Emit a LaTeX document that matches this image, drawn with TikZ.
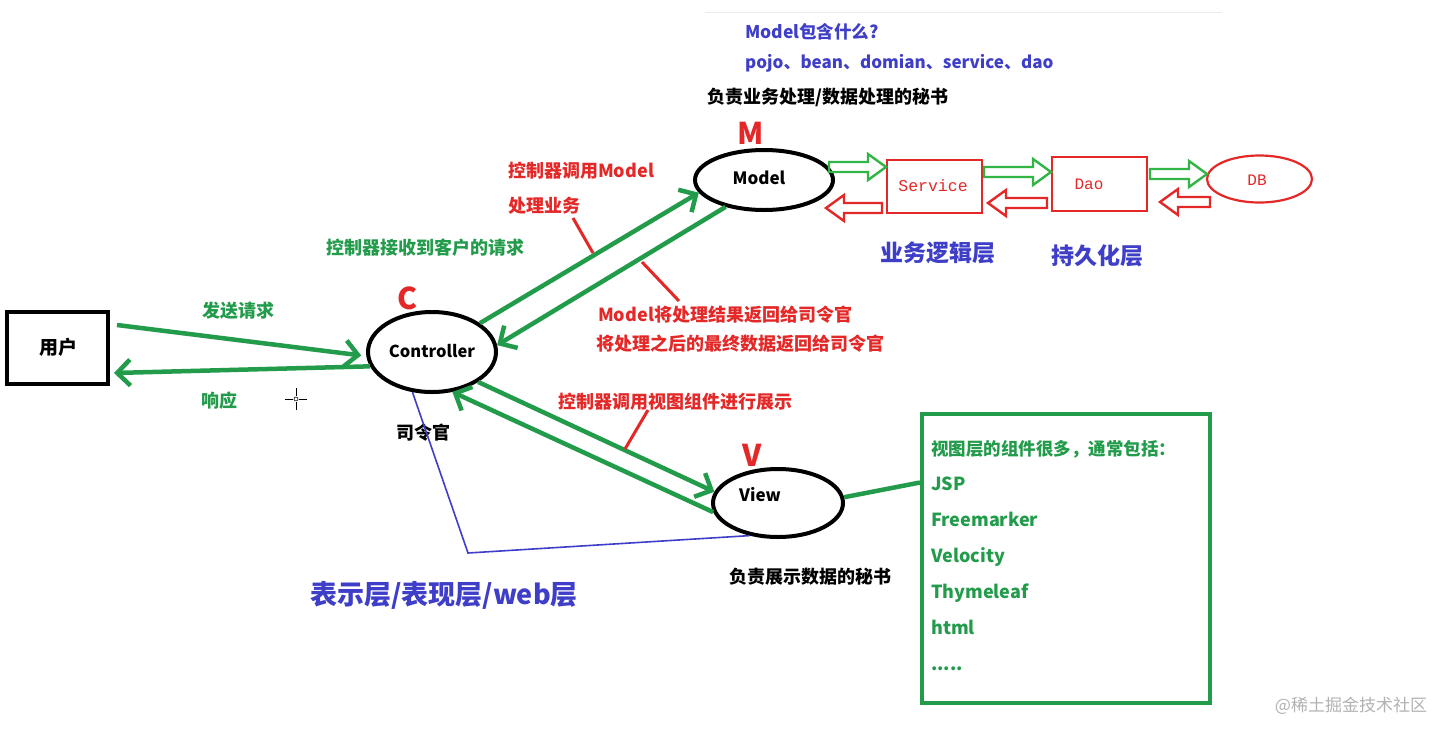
\documentclass[tikz,border=0pt]{standalone}
\usepackage{fontspec}
\setmainfont{Noto Sans CJK SC}
\newfontfamily\monof{Liberation Mono}
\usetikzlibrary{arrows.meta,calc,shapes.geometric}
\definecolor{gr}{RGB}{34,155,75}
\definecolor{lgr}{RGB}{50,180,70}
\definecolor{rd}{RGB}{228,40,40}
\definecolor{bl}{RGB}{62,62,200}
\newcommand{\fs}[1]{\fontsize{#1}{#1}\selectfont}
\newcommand{\harrow}[5]{\begin{scope}[shift={(#1,#2)},xscale=#5]\draw[#4,line width=2.4pt,line join=miter] (0,-5) -- (#3-18,-5) -- (#3-18,-13) -- (#3,0) -- (#3-18,13) -- (#3-18,5) -- (0,5) -- cycle;\end{scope}}
\begin{document}
\begin{tikzpicture}[x=1pt,y=-1pt,
  every node/.style={inner sep=0pt, font=\bfseries\fs{18}},
  ell/.style={ellipse, draw=black, line width=4pt, inner sep=0pt},
  conn/.style={gr, line width=4.5pt, -{Straight Barb[length=13pt,width=26pt]}},
  ptr/.style={rd, line width=3pt},
  lbl/.style={anchor=west},
  bigl/.style={rd, font=\bfseries\fs{30}}]
\useasboundingbox (0,0) rectangle (1452,737);
\fill[white] (0,0) rectangle (1452,737);
\draw[gray!15, line width=1pt] (705,12) -- (1222,12);

% top texts
\node[lbl, bl, font=\bfseries\fs{17.5}] (q1) at (745,32) {Model包含什么?};
\node[lbl, bl, font=\bfseries\fs{17}] (q2) at (745,63) {pojo、bean、domian、service、dao};
\node[lbl] (mdesc) at (707,97) {负责业务处理/数据处理的秘书};
\node[bigl] (M) at (751,133) {M};

% Model side
\node[ell, minimum width=138pt, minimum height=60pt] (model) at (764,180) {};
\node[font=\bfseries\fs{17}] (modeltxt) at (759,178) {Model};
\node[draw=rd, line width=2.4pt, minimum width=95pt, minimum height=53pt] (svc) at (934.5,186.5) {};
\node[rd, font=\monof\fs{16.5}] (svctxt) at (933,186) {Service};
\node[draw=rd, line width=2.4pt, minimum width=95pt, minimum height=54pt] (dao) at (1099.5,184) {};
\node[rd, font=\monof\fs{16}] (daotxt) at (1089,184) {Dao};
\node[ellipse, draw=rd, line width=2.2pt, minimum width=105pt, minimum height=47pt] (db) at (1259.5,179) {};
\node[rd, font=\monof\fs{16}] (dbtxt) at (1257,180) {DB};

\harrow{829}{167}{57}{lgr}{1}
\harrow{984}{172}{67}{lgr}{1}
\harrow{1150}{174}{57}{lgr}{1}
\harrow{882}{208}{56}{rd}{-1}
\harrow{1047}{203}{59}{rd}{-1}
\harrow{1210}{202}{50}{rd}{-1}

\node[bl, font=\bfseries\fs{23}] (biz) at (938,253) {业务逻辑层};
\node[bl, font=\bfseries\fs{23}] (pers) at (1097,256) {持久化层};

% user / controller
\node[draw=black, line width=4pt, minimum width=101pt, minimum height=72pt] (user) at (57.5,348) {};
\node[font=\bfseries\fs{19}] (usertxt) at (58,347) {用户};
\node[bigl] (C) at (408,298) {C};
\node[ell, minimum width=128pt, minimum height=80pt] (ctrl) at (432,352) {};
\node[font=\bfseries\fs{16.5}] (ctrltxt) at (432,351) {Controller};
\node (sling) at (423,433) {司令官};

\draw[conn] ([xshift=7pt,yshift=23pt]user.east) -- ([xshift=-5pt]ctrl.183);
\draw[conn] (ctrl.193) -- ([xshift=4pt,yshift=-25pt]user.east);
\node[gr] (send) at (238,311) {发送请求};
\node[gr] (resp) at (219,401) {响应};
\draw[black, line width=0.8pt] (296,388) -- (296,396) (296,402) -- (296,410) (285,399) -- (293,399) (299,399) -- (307,399);
\draw[black, line width=0.6pt] (296,399) circle (2);

% controller <-> model
\node[gr] (recv) at (425,248) {控制器接收到客户的请求};
\node[lbl, rd] (call1) at (508,171) {控制器调用Model};
\node[lbl, rd] (call2) at (508,206) {处理业务};
\draw[conn] (ctrl.31) -- (model.191);
\draw[conn] (model.215.5) -- (ctrl.6);
\coordinate (p1a) at (573,218);
\coordinate (p1b) at (593,253);
\draw[ptr] (p1a) -- (p1b);
\coordinate (p2a) at (642,262);
\coordinate (p2b) at (679,301);
\draw[ptr] (p2a) -- (p2b);
\node[lbl, rd] (ret1) at (598,315) {Model将处理结果返回给司令官};
\node[lbl, rd] (ret2) at (596,344) {将处理之后的最终数据返回给司令官};

% controller <-> view
\node[bigl] (V) at (752,455) {V};
\node[ell, minimum width=130pt, minimum height=68pt] (view) at (778,503) {};
\node[font=\bfseries\fs{17}] (viewtxt) at (760,495) {View};
\draw[conn] (ctrl.327.6) -- (view.170);
\draw[conn] (view.188.5) -- (ctrl.297.6);
\node[rd] (call3) at (675,402) {控制器调用视图组件进行展示};
\coordinate (p3a) at (648,410);
\coordinate (p3b) at (625,449);
\draw[ptr] (p3a) -- (p3b);
\node (vdesc) at (810,577) {负责展示数据的秘书};

% blue bracket
\coordinate (bmid) at (468,553);
\draw[bl, line width=1.6pt] (ctrl.244.6) -- (bmid) -- (view.229);
\node[bl, font=\bfseries\fs{27}] (web) at (444,595) {表示层/表现层/web层};

% view components box
\node[draw=gr, line width=4pt, minimum width=288pt, minimum height=289pt] (box) at (1066,558.5) {};
\draw[gr, line width=4.5pt] (view.5) -- ([yshift=76pt]box.west);
\begin{scope}[every node/.style={inner sep=0pt, anchor=base west, gr, font=\bfseries\fs{18}}]
\node (b0) at (931,455) {\fs{17.5}视图层的组件很多，通常包括：};
\node (b1) at (931,490) {JSP};
\node (b2) at (931,526) {Freemarker};
\node (b3) at (931,562) {Velocity};
\node (b4) at (931,598) {Thymeleaf};
\node (b5) at (931,634) {html};
\node (b6) at (931,670) {.....};
\end{scope}

\node[gray!60, font=\fs{17}] (wm) at (1351,706) {@稀土掘金技术社区};
\end{tikzpicture}
\end{document}
